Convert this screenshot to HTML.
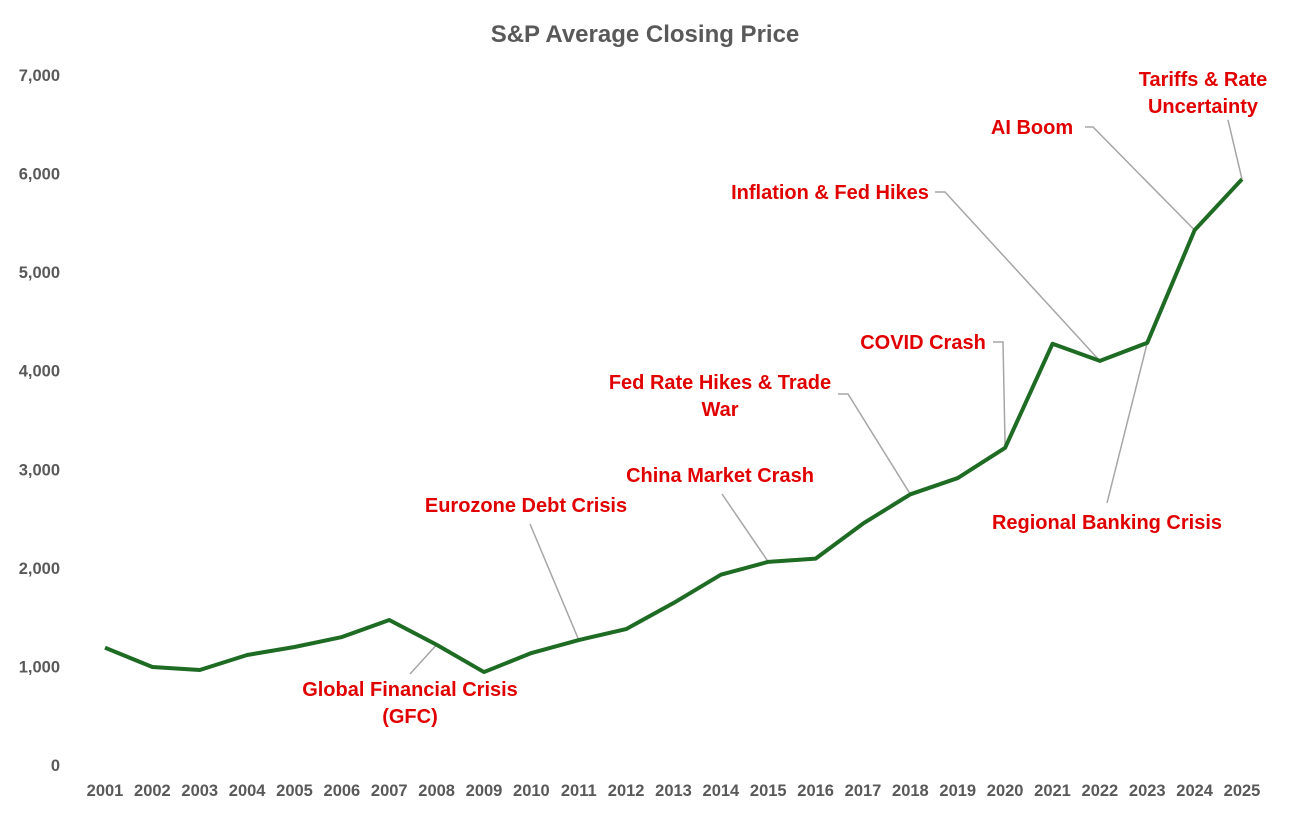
<!DOCTYPE html>
<html><head><meta charset="utf-8"><style>
html,body{margin:0;padding:0;background:#fff;}
svg{display:block;font-family:"Liberation Sans",Arial,sans-serif;}
.tick{font-size:16.5px;font-weight:bold;fill:#595959;}
.ann{font-size:20px;font-weight:bold;fill:#e00000;}
</style></head><body>
<svg id="chart" width="1292" height="819" viewBox="0 0 1292 819">
<text x="645" y="42" text-anchor="middle" font-size="24" font-weight="bold" fill="#595959">S&amp;P Average Closing Price</text>
<g id="yaxis"></g>
<g id="xaxis"></g>
<g id="leaders"></g>
<path id="line" fill="none" stroke="#1e6b23" stroke-width="4" stroke-linejoin="round"/>
<g id="anns"></g>
</svg>
<script>
const years=[2001,2002,2003,2004,2005,2006,2007,2008,2009,2010,2011,2012,2013,2014,2015,2016,2017,2018,2019,2020,2021,2022,2023,2024,2025];
const prices=[1190,994,964,1116,1197,1298,1471,1220,943,1136,1268,1379,1643,1931,2061,2094,2449,2746,2911,3218,4273,4100,4283,5426,5943];
const yTicks=[0,1000,2000,3000,4000,5000,6000,7000];
const yTickLabels=["0","1,000","2,000","3,000","4,000","5,000","6,000","7,000"];
const annYears=[2008,2011,2015,2018,2020,2022,2023,2024,2025];
const annTexts=[["Global Financial Crisis","(GFC)"],["Eurozone Debt Crisis"],["China Market Crash"],["Fed Rate Hikes & Trade","War"],["COVID Crash"],["Inflation & Fed Hikes"],["Regional Banking Crisis"],["AI Boom"],["Tariffs & Rate","Uncertainty"]];

const NS="http://www.w3.org/2000/svg";
const x=i=>105+i*(1242-105)/(years.length-1);
const y=v=>765-v*(765-75)/7000;
function mk(tag,attrs,parent){const e=document.createElementNS(NS,tag);for(const k in attrs)e.setAttribute(k,attrs[k]);parent.appendChild(e);return e;}

const ya=document.getElementById('yaxis');
yTicks.forEach((t,i)=>{const e=mk('text',{x:60,y:y(t)+6,'text-anchor':'end',class:'tick'},ya);e.textContent=yTickLabels[i];

});
const xa=document.getElementById('xaxis');
years.forEach((yr,i)=>{const e=mk('text',{x:x(i),y:796,'text-anchor':'middle',class:'tick'},xa);e.textContent=yr;

});

document.getElementById('line').setAttribute('d',prices.map((p,i)=>(i?'L':'M')+x(i)+','+y(p)).join(''));

const layout=[
 {cx:410,ty:696,lead:[[410,674]]},
 {cx:526,ty:512,lead:[[530,524]]},
 {cx:720,ty:482,lead:[[722,494]]},
 {cx:720,ty:389,lead:[[838,394],[848,394]]},
 {cx:923,ty:349,lead:[[993,342],[1003,342]]},
 {cx:830,ty:199,lead:[[935,192],[945,192]]},
 {cx:1107,ty:529,lead:[[1107,503]]},
 {cx:1032,ty:134,lead:[[1085,127],[1093,127]]},
 {cx:1203,ty:86,lead:[[1228,120]]}
];
const lg=document.getElementById('leaders'),ag=document.getElementById('anns');
annYears.forEach((yr,k)=>{
 const i=years.indexOf(yr),L=layout[k];
 const pts=L.lead.concat([[x(i),y(prices[i])]]);
 const pl=mk('polyline',{points:pts.map(p=>p.join(',')).join(' '),fill:'none',stroke:'#a6a6a6','stroke-width':1.5},lg);
 
 
 annTexts[k].forEach((s,j)=>{const t=mk('text',{x:L.cx,y:L.ty+j*27,'text-anchor':'middle',class:'ann'},ag);t.textContent=s;
 
 });
});
</script>
</body></html>
